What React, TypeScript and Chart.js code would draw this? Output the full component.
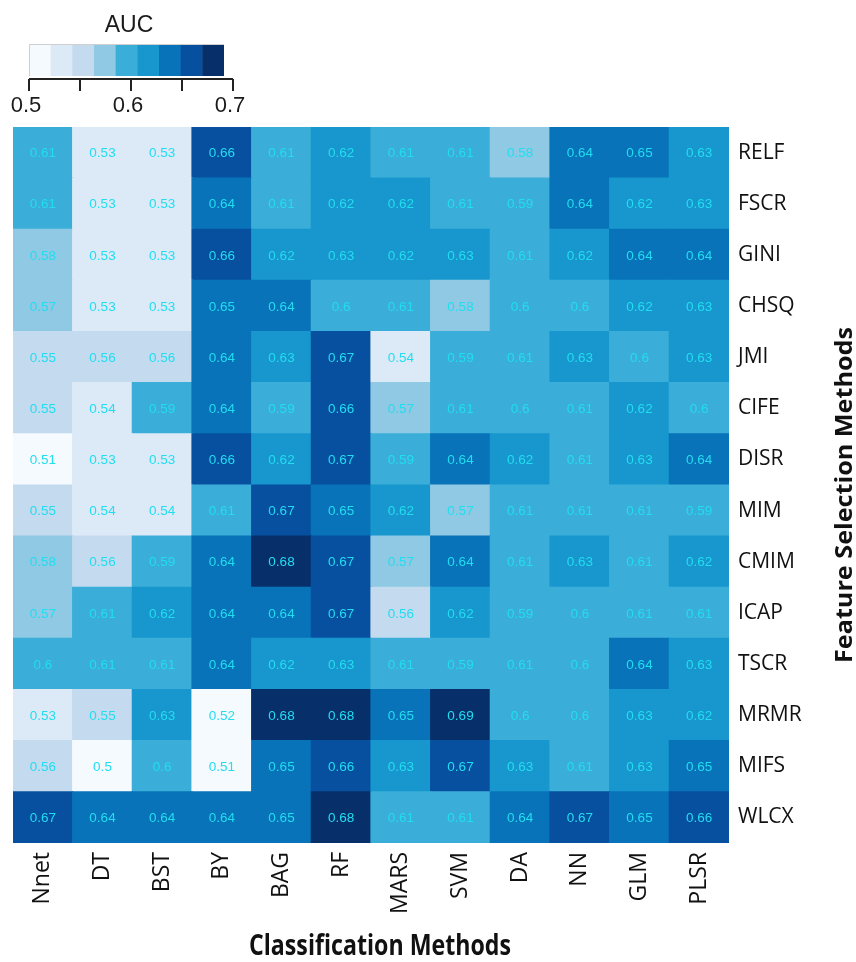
import React, { useEffect, useRef } from 'react';
import { Chart, registerables } from 'chart.js';

Chart.register(...registerables);

// ---- Data ----
const classificationMethods = ['Nnet', 'DT', 'BST', 'BY', 'BAG', 'RF', 'MARS', 'SVM', 'DA', 'NN', 'GLM', 'PLSR'];
const featureSelectionMethods = ['RELF', 'FSCR', 'GINI', 'CHSQ', 'JMI', 'CIFE', 'DISR', 'MIM', 'CMIM', 'ICAP', 'TSCR', 'MRMR', 'MIFS', 'WLCX'];

const RELF = [0.61, 0.53, 0.53, 0.66, 0.61, 0.62, 0.61, 0.61, 0.58, 0.64, 0.65, 0.63];
const FSCR = [0.61, 0.53, 0.53, 0.64, 0.61, 0.62, 0.62, 0.61, 0.59, 0.64, 0.62, 0.63];
const GINI = [0.58, 0.53, 0.53, 0.66, 0.62, 0.63, 0.62, 0.63, 0.61, 0.62, 0.64, 0.64];
const CHSQ = [0.57, 0.53, 0.53, 0.65, 0.64, 0.6, 0.61, 0.58, 0.6, 0.6, 0.62, 0.63];
const JMI = [0.55, 0.56, 0.56, 0.64, 0.63, 0.67, 0.54, 0.59, 0.61, 0.63, 0.6, 0.63];
const CIFE = [0.55, 0.54, 0.59, 0.64, 0.59, 0.66, 0.57, 0.61, 0.6, 0.61, 0.62, 0.6];
const DISR = [0.51, 0.53, 0.53, 0.66, 0.62, 0.67, 0.59, 0.64, 0.62, 0.61, 0.63, 0.64];
const MIM = [0.55, 0.54, 0.54, 0.61, 0.67, 0.65, 0.62, 0.57, 0.61, 0.61, 0.61, 0.59];
const CMIM = [0.58, 0.56, 0.59, 0.64, 0.68, 0.67, 0.57, 0.64, 0.61, 0.63, 0.61, 0.62];
const ICAP = [0.57, 0.61, 0.62, 0.64, 0.64, 0.67, 0.56, 0.62, 0.59, 0.6, 0.61, 0.61];
const TSCR = [0.6, 0.61, 0.61, 0.64, 0.62, 0.63, 0.61, 0.59, 0.61, 0.6, 0.64, 0.63];
const MRMR = [0.53, 0.55, 0.63, 0.52, 0.68, 0.68, 0.65, 0.69, 0.6, 0.6, 0.63, 0.62];
const MIFS = [0.56, 0.5, 0.6, 0.51, 0.65, 0.66, 0.63, 0.67, 0.63, 0.61, 0.63, 0.65];
const WLCX = [0.67, 0.64, 0.64, 0.64, 0.65, 0.68, 0.61, 0.61, 0.64, 0.67, 0.65, 0.66];

const aucRows = [RELF, FSCR, GINI, CHSQ, JMI, CIFE, DISR, MIM, CMIM, ICAP, TSCR, MRMR, MIFS, WLCX];

const aucMin = 0.5;
const aucMax = 0.7;
const legendTickLabels = [0.5, 0.6, 0.7];
const binColors = ['#F5FAFE', '#DCEAF7', '#C3DAEF', '#8FC9E3', '#3AAED9', '#1797CD', '#0873B8', '#06509F', '#07306B'];

const xTitle = 'Classification Methods';
const yTitle = 'Feature Selection Methods';
const legendTitle = 'AUC';

// ---- Helpers ----
const colorFor = (v: number) => {
  const n = binColors.length;
  let i = Math.floor(((v - aucMin) / (aucMax - aucMin)) * n + 1e-9);
  if (i < 0) i = 0;
  if (i > n - 1) i = n - 1;
  return binColors[i];
};

// rows from bottom to top for stacking
const rowOrderBottomUp = featureSelectionMethods.map((_, i) => featureSelectionMethods.length - 1 - i);

const cellLabelPlugin = {
  id: 'cellLabels',
  afterDatasetsDraw(chart: any) {
    const ctx = chart.ctx;
    ctx.save();
    ctx.font = '13.5px "Liberation Sans", Arial, sans-serif';
    ctx.fillStyle = '#22DDF0';
    ctx.textAlign = 'center';
    ctx.textBaseline = 'middle';
    chart.data.datasets.forEach((ds: any, d: number) => {
      const meta = chart.getDatasetMeta(d);
      meta.data.forEach((el: any, j: number) => {
        const p = el.getProps(['x', 'y', 'base'], true);
        ctx.fillText(String(ds.auc[j]), p.x, (p.y + p.base) / 2 + 1);
      });
    });
    ctx.restore();
  },
};

const decorPlugin = {
  id: 'decor',
  afterDraw(chart: any) {
    const ctx = chart.ctx;
    const area = chart.chartArea;
    ctx.save();

    // ---- Colour legend ----
    const barL = 29, barR = 224, barT = 44, barB = 76;
    const axL = 29, axR = 233, axY = 79;
    const cw = (barR - barL) / binColors.length;
    binColors.forEach((c, i) => {
      ctx.fillStyle = c;
      ctx.fillRect(barL + i * cw, barT, cw + (i < binColors.length - 1 ? 0.5 : 0), barB - barT);
    });
    ctx.strokeStyle = '#cfcfcf';
    ctx.lineWidth = 1;
    ctx.beginPath();
    ctx.moveTo(barL + 0.5, barB);
    ctx.lineTo(barL + 0.5, barT + 0.5);
    ctx.lineTo(barR, barT + 0.5);
    ctx.stroke();

    ctx.strokeStyle = '#222';
    ctx.lineWidth = 2;
    ctx.beginPath();
    ctx.moveTo(axL, axY);
    ctx.lineTo(axR, axY);
    const nTicks = 4;
    for (let k = 0; k <= nTicks; k++) {
      const x = axL + ((axR - axL) * k) / nTicks;
      ctx.moveTo(x, axY);
      ctx.lineTo(x, axY + 12);
    }
    ctx.stroke();

    ctx.fillStyle = '#1a1a1a';
    ctx.font = '22px "Liberation Sans", Arial, sans-serif';
    ctx.textAlign = 'center';
    ctx.textBaseline = 'alphabetic';
    legendTickLabels.forEach((v) => {
      const x = axL + ((v - aucMin) / (aucMax - aucMin)) * (axR - axL);
      ctx.fillText(String(v), x - 3, 112);
    });
    ctx.font = '23px "Liberation Sans", Arial, sans-serif';
    ctx.fillText(legendTitle, 129, 32);

    // ---- Axis titles ----
    ctx.fillStyle = '#111';
    ctx.textAlign = 'center';
    ctx.textBaseline = 'alphabetic';
    ctx.font = 'bold 29px "Open Sans", sans-serif';
    let w = ctx.measureText(xTitle).width;
    ctx.save();
    ctx.translate((area.left + area.right) / 2 + 9, 955);
    ctx.scale(262 / w, 1);
    ctx.fillText(xTitle, 0, 0);
    ctx.restore();

    ctx.font = 'bold 24px "Open Sans", sans-serif';
    w = ctx.measureText(yTitle).width;
    ctx.save();
    ctx.translate(852, (area.top + area.bottom) / 2 + 10);
    ctx.rotate(-Math.PI / 2);
    ctx.scale(336 / w, 1);
    ctx.fillText(yTitle, 0, 0);
    ctx.restore();

    ctx.restore();
  },
};

export default function App() {
  const canvasRef = useRef<HTMLCanvasElement | null>(null);

  useEffect(() => {
    if (!canvasRef.current) return;
    const datasets = rowOrderBottomUp.map((r) => ({
      label: featureSelectionMethods[r],
      data: classificationMethods.map(() => 1),
      auc: aucRows[r],
      backgroundColor: aucRows[r].map(colorFor),
      borderWidth: 0,
      borderSkipped: false,
      inflateAmount: 0.6,
      barPercentage: 1,
      categoryPercentage: 1,
    }));

    const chart = new Chart(canvasRef.current, {
      type: 'bar',
      data: { labels: classificationMethods, datasets: datasets as any },
      options: {
        animation: false,
        responsive: false,
        devicePixelRatio: 1,
        layout: { padding: { left: 13, top: 127, right: 0, bottom: 0 } },
        plugins: { legend: { display: false }, tooltip: { enabled: false } },
        scales: {
          x: {
            type: 'category',
            stacked: true,
            grid: { display: false, drawTicks: false },
            border: { display: false },
            ticks: {
              minRotation: 90,
              maxRotation: 90,
              padding: 9,
              color: '#111',
              font: { family: '"Open Sans", sans-serif', size: 23 },
            },
            afterFit: (scale: any) => {
              scale.height = 119;
            },
          },
          y: {
            type: 'linear',
            position: 'right',
            stacked: true,
            min: 0,
            max: featureSelectionMethods.length,
            grid: { display: false, drawTicks: false },
            border: { display: false },
            afterBuildTicks: (axis: any) => {
              axis.ticks = rowOrderBottomUp.map((_, i) => ({ value: i + 0.5 }));
            },
            ticks: {
              autoSkip: false,
              padding: 9,
              color: '#111',
              font: { family: '"Open Sans", sans-serif', size: 21 },
              callback: (v: any) => featureSelectionMethods[rowOrderBottomUp[Math.floor(Number(v))]],
            },
            afterFit: (scale: any) => {
              scale.width = 127;
            },
          },
        },
      },
      plugins: [cellLabelPlugin, decorPlugin],
    });
    return () => chart.destroy();
  }, []);

  return (
    <div style={{ position: 'absolute', left: 0, top: 0, width: 856, height: 962, background: '#fff' }}>
      <canvas ref={canvasRef} width={856} height={962} style={{ display: 'block' }} />
    </div>
  );
}
